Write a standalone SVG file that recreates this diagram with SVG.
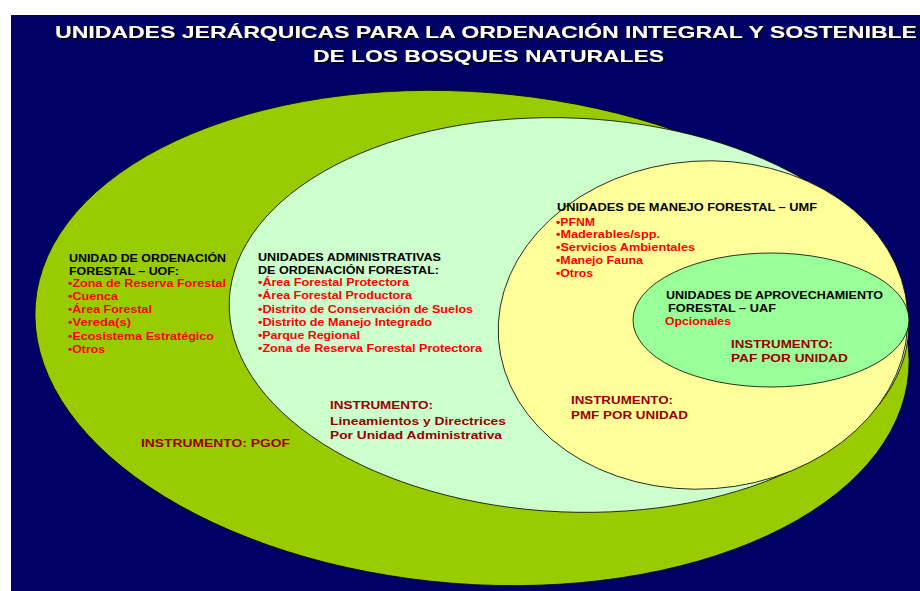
<svg xmlns="http://www.w3.org/2000/svg" width="920" height="591" viewBox="0 0 920 591">
<defs>
<filter id="shadow" x="-5%" y="-20%" width="110%" height="160%">
<feDropShadow dx="1.5" dy="1.5" stdDeviation="0.3" flood-color="#000000" flood-opacity="1"/>
</filter>
</defs>
<style>
text{font-family:"Liberation Sans",Arial,sans-serif;font-weight:bold;}
.title{font-size:16.5px;fill:#ffffff;}
.h{font-size:10.5px;fill:#000000;}
.r{font-size:10.5px;fill:#ff0000;}
.i{font-size:11px;fill:#990000;}
.e{stroke:#000000;stroke-width:0.8;}
</style>
<rect x="0" y="0" width="920" height="591" fill="#ffffff"/>
<rect x="11" y="15" width="909" height="576" fill="#000066"/>
<g id="title" filter="url(#shadow)">
<text class="title" x="55" y="37.5" textLength="862" lengthAdjust="spacingAndGlyphs">UNIDADES JERÁRQUICAS PARA LA ORDENACIÓN INTEGRAL Y SOSTENIBLE</text>
<text class="title" x="313" y="62" textLength="351" lengthAdjust="spacingAndGlyphs">DE LOS BOSQUES NATURALES</text>
</g>
<g id="uof">
<ellipse class="e" cx="472" cy="338" rx="438" ry="246" fill="#99cc00" transform="rotate(4.5 472 338)"/>
<text class="h" x="69" y="261.5" textLength="157" lengthAdjust="spacingAndGlyphs">UNIDAD DE ORDENACIÓN</text>
<text class="h" x="69" y="274.5" textLength="110" lengthAdjust="spacingAndGlyphs">FORESTAL – UOF:</text>
<text class="r" x="68" y="287" textLength="158" lengthAdjust="spacingAndGlyphs">•Zona de Reserva Forestal</text>
<text class="r" x="68" y="300" textLength="50" lengthAdjust="spacingAndGlyphs">•Cuenca</text>
<text class="r" x="68" y="313" textLength="84" lengthAdjust="spacingAndGlyphs">•Área Forestal</text>
<text class="r" x="68" y="326" textLength="63" lengthAdjust="spacingAndGlyphs">•Vereda(s)</text>
<text class="r" x="68" y="339.5" textLength="146" lengthAdjust="spacingAndGlyphs">•Ecosistema Estratégico</text>
<text class="r" x="68" y="352.5" textLength="37" lengthAdjust="spacingAndGlyphs">•Otros</text>
<text class="i" x="141" y="446.5" textLength="149" lengthAdjust="spacingAndGlyphs">INSTRUMENTO:  PGOF</text>
</g>
<g id="admin">
<ellipse class="e" cx="569" cy="315" rx="340" ry="197" fill="#ccffcc" transform="rotate(2.5 569 315)"/>
<text class="h" x="258" y="261" textLength="183" lengthAdjust="spacingAndGlyphs">UNIDADES ADMINISTRATIVAS</text>
<text class="h" x="258" y="273.5" textLength="181" lengthAdjust="spacingAndGlyphs">DE ORDENACIÓN  FORESTAL:</text>
<text class="r" x="258" y="286" textLength="151" lengthAdjust="spacingAndGlyphs">•Área Forestal Protectora</text>
<text class="r" x="258" y="299" textLength="154" lengthAdjust="spacingAndGlyphs">•Área Forestal Productora</text>
<text class="r" x="258" y="312.5" textLength="215" lengthAdjust="spacingAndGlyphs">•Distrito de Conservación de Suelos</text>
<text class="r" x="258" y="325.5" textLength="174" lengthAdjust="spacingAndGlyphs">•Distrito de Manejo Integrado</text>
<text class="r" x="258" y="338.5" textLength="102" lengthAdjust="spacingAndGlyphs">•Parque Regional</text>
<text class="r" x="258" y="351.5" textLength="224" lengthAdjust="spacingAndGlyphs">•Zona de Reserva Forestal Protectora</text>
<text class="i" x="330" y="408.5" textLength="103" lengthAdjust="spacingAndGlyphs">INSTRUMENTO:</text>
<text class="i" x="330" y="425" textLength="176" lengthAdjust="spacingAndGlyphs">Lineamientos y Directrices</text>
<text class="i" x="330" y="439" textLength="172" lengthAdjust="spacingAndGlyphs">Por Unidad Administrativa</text>
</g>
<g id="umf">
<ellipse class="e" cx="703" cy="325" rx="205" ry="164" fill="#ffff99" transform="rotate(-4 703 325)"/>
<text class="h" x="557" y="211" textLength="260" lengthAdjust="spacingAndGlyphs">UNIDADES DE MANEJO FORESTAL – UMF</text>
<text class="r" x="556" y="225.5" textLength="39" lengthAdjust="spacingAndGlyphs">•PFNM</text>
<text class="r" x="556" y="237.5" textLength="104" lengthAdjust="spacingAndGlyphs">•Maderables/spp.</text>
<text class="r" x="556" y="251" textLength="139" lengthAdjust="spacingAndGlyphs">•Servicios Ambientales</text>
<text class="r" x="556" y="264" textLength="87" lengthAdjust="spacingAndGlyphs">•Manejo Fauna</text>
<text class="r" x="556" y="276.5" textLength="37" lengthAdjust="spacingAndGlyphs">•Otros</text>
<text class="i" x="571" y="404" textLength="102" lengthAdjust="spacingAndGlyphs">INSTRUMENTO:</text>
<text class="i" x="571" y="418.5" textLength="117" lengthAdjust="spacingAndGlyphs">PMF POR UNIDAD</text>
</g>
<g id="uaf">
<ellipse class="e" cx="771" cy="320" rx="138" ry="67" fill="#99ff99"/>
<text class="h" x="666" y="298.5" textLength="217" lengthAdjust="spacingAndGlyphs">UNIDADES DE APROVECHAMIENTO</text>
<text class="h" x="668" y="311.5" textLength="108" lengthAdjust="spacingAndGlyphs">FORESTAL  – UAF</text>
<text class="r" x="665" y="324.5" textLength="66" lengthAdjust="spacingAndGlyphs">Opcionales</text>
<text class="i" x="731" y="348" textLength="102" lengthAdjust="spacingAndGlyphs">INSTRUMENTO:</text>
<text class="i" x="731" y="362" textLength="117" lengthAdjust="spacingAndGlyphs">PAF POR UNIDAD</text>
</g>
<g id="connectors"/>
</svg>
